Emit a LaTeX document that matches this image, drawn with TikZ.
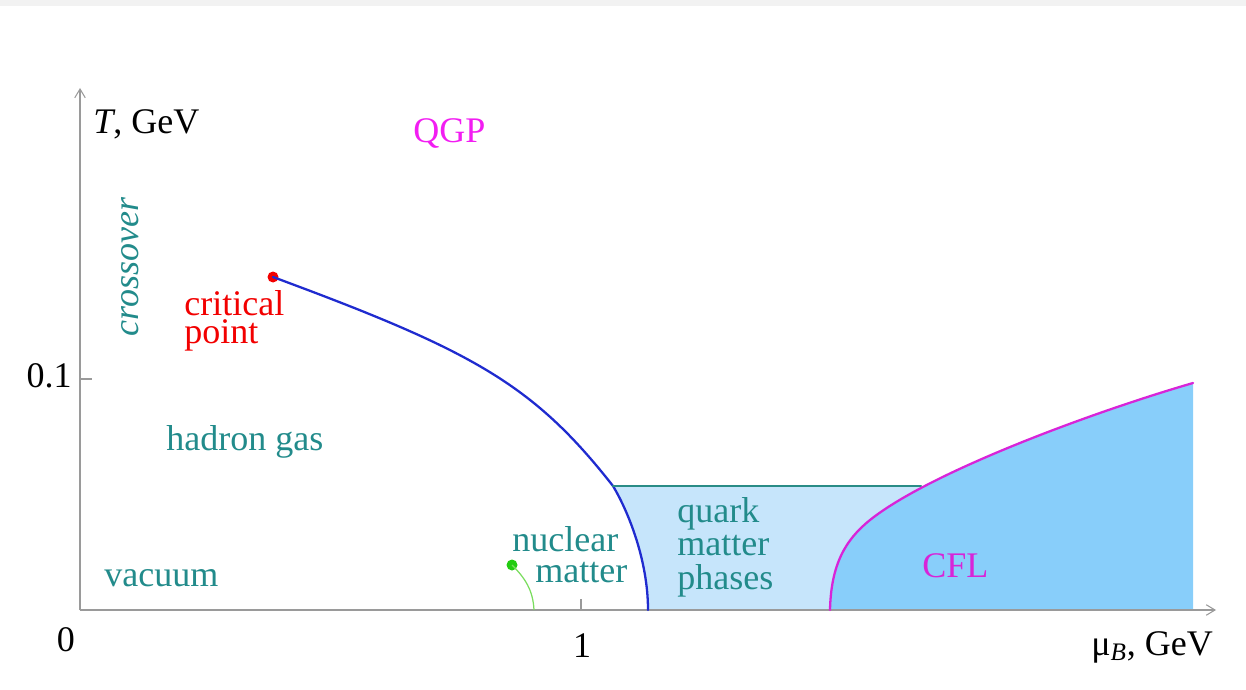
\documentclass[tikz,border=0pt]{standalone}
\usepackage{fontspec}
\setmainfont{Liberation Serif}
\usetikzlibrary{arrows.meta}
\definecolor{stripgray}{HTML}{F2F2F2}
\definecolor{axisgray}{HTML}{9A9A9A}
\definecolor{phaseteal}{HTML}{228B8B}
\definecolor{edgeteal}{HTML}{2A8C86}
\definecolor{quarkblue}{HTML}{C6E5FB}
\definecolor{cflblue}{HTML}{88CEFA}
\definecolor{lineblue}{HTML}{1F2BCF}
\definecolor{cflmagenta}{HTML}{D824D8}
\definecolor{qgpmagenta}{HTML}{F21DF2}
\definecolor{cpred}{HTML}{F20000}
\definecolor{nmgreen}{HTML}{22CC11}
\definecolor{nmline}{HTML}{7ADD5E}
\tikzset{
  phase/.style={
    inner sep=0pt,
    anchor=base west,
    text=phaseteal,
    align=left,
    font=\fontsize{20.5}{24}\selectfont
  },
  number/.style={
    inner sep=0pt,
    anchor=base,
    text=black,
    font=\fontsize{20.5}{24}\selectfont
  },
  axis/.style={-{Straight Barb[length=5pt,width=6pt]},line width=0.6pt,draw=axisgray},
  tick/.style={line width=0.6pt,draw=axisgray},
  dot/.style={circle,inner sep=0pt,minimum size=0.22cm},
  border/.style={line width=1.3pt,line cap=round}
}

\begin{document}
\begin{tikzpicture}[x=0.02cm,y=-0.02cm]
    \useasboundingbox (0,0) rectangle (1246,689);
    \fill[stripgray] (0,0) rectangle (1246,6);

    % phase regions
    \coordinate (qtop) at (613,486);
    \coordinate (qcfl) at (921,486);
    \fill[quarkblue] (qtop) .. controls (628,511) and (648,560) .. (648,610)
      -- (921,610) -- (qcfl) -- cycle;
    \fill[cflblue] (830,610) .. controls (831,565) and (845,540) .. (870,520)
      .. controls (930,472) and (1093,412) .. (1193,383) -- (1193,610) -- cycle;

    % axes
    \coordinate (O) at (80,610);
    \coordinate (xend) at (1216,610);
    \coordinate (yend) at (80,88);
    \draw[axis] (O) -- (xend);
    \draw[axis] (O) -- (yend);
    \draw[tick] (80,379) -- (92,379);
    \draw[tick] (581,610) -- (581,599);
    \node[number] (zero) at (66,651) {0};
    \node[number] (one) at (582,657) {1};
    \node[number,anchor=base east] (tenth) at (72,387) {0.1};
    \node[number,anchor=base west] (tlabel) at (93,134) {\textit{T}, GeV};
    \node[number,anchor=base west] (mulabel) at (1091,655) {μ\textsubscript{\textit{B}}, GeV};

    % boundaries
    \node[dot,fill=cpred] (cp) at (273,277) {};
    \node[dot,fill=nmgreen] (nm) at (512,565) {};
    \draw[border,lineblue] (cp.center) .. controls (473,351) and (533,384) .. (qtop)
      .. controls (628,511) and (648,560) .. (648,610);
    \draw[border,edgeteal] (qtop) -- (qcfl);
    \draw[border,cflmagenta] (830,610) .. controls (831,565) and (845,540) .. (870,520)
      .. controls (930,472) and (1093,412) .. (1193,383);
    \draw[nmline,line width=0.7pt] (nm.center) .. controls (525,578) and (533,590) .. (534,610);

    % labels (multi-line ones sit on their last baseline)
    \node[phase,text=qgpmagenta] (qgp) at (413,143) {QGP};
    \node[phase,rotate=90,font=\fontsize{20.5}{24}\selectfont\itshape] (cross) at (138,337) {crossover};
    \node[phase,text=cpred,font=\fontsize{20.5}{15.9}\selectfont] (cplabel) at (184,343) {critical\\point};
    \node[phase] (hadron) at (166,450) {hadron gas};
    \node[phase] (vac) at (104,586) {vacuum};
    \node[phase,font=\fontsize{20.5}{17.1}\selectfont] (nuclear) at (512,582) {nuclear\\\hspace*{0.46cm}matter};
    \node[phase,font=\fontsize{20.5}{18.8}\selectfont] (quark) at (677,589) {quark\\matter\\phases};
    \node[phase,text=cflmagenta] (cfl) at (922,577) {CFL};
\end{tikzpicture}
\end{document}
